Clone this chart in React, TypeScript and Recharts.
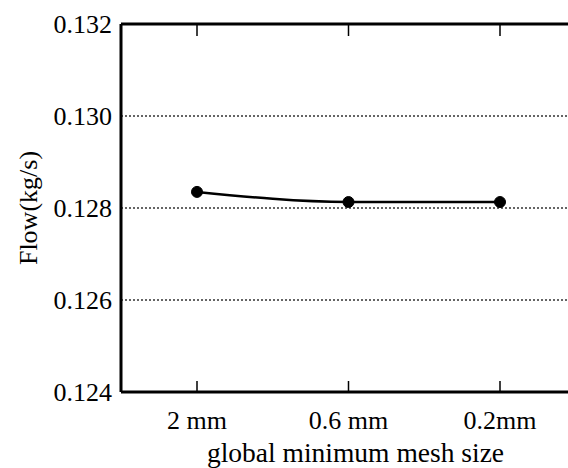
import React from "react"
import { LineChart, Line, XAxis, YAxis, CartesianGrid, Label, ReferenceLine } from "recharts"

const meshSizes = ["2 mm", "0.6 mm", "0.2mm"]
const flowValues = [0.12835, 0.12813, 0.12813]
const yTicks = [0.124, 0.126, 0.128, 0.13, 0.132]

const data = meshSizes.map((size, i) => ({ size, flow: flowValues[i] }))

const FONT = "Liberation Serif"
const PLOT_TOP = 24
const X_PAD = { left: 76, right: 76 }

// ticks point inward on both the bottom axis and the top frame edge
function BottomTick({ x, y, payload }: any) {
  return (
    <g>
      <line x1={x} y1={y} x2={x} y2={y - 11} stroke="#000" strokeWidth={1.5} />
      <line x1={x} y1={PLOT_TOP} x2={x} y2={PLOT_TOP + 12} stroke="#000" strokeWidth={1.5} />
      <text x={x} y={y + 37} textAnchor="middle" style={{ fontFamily: FONT, fontSize: 26 }} fill="#000">
        {payload.value}
      </text>
    </g>
  )
}

export default function App() {
  return (
    <div style={{ position: "absolute", left: 0, top: 0, width: 568, height: 468, overflow: "hidden", background: "#fff" }}>
      <LineChart width={580} height={468} data={data} margin={{ top: PLOT_TOP, right: 4, bottom: 0, left: 0 }}>
        <CartesianGrid vertical={false} stroke="#333" strokeDasharray="2 2" strokeWidth={1.5} />
        <XAxis
          dataKey="size"
          height={76}
          padding={X_PAD}
          axisLine={{ stroke: "#000", strokeWidth: 3 }}
          tickLine={false}
          tickSize={0}
          tickMargin={0}
          tick={<BottomTick />}
          interval={0}
        >
          <Label
            value="global minimum mesh size"
            position="insideBottom"
            content={({ viewBox }: any) => (
              <text
                x={viewBox.x + viewBox.width / 2 + 7}
                y={462}
                textAnchor="middle"
                style={{ fontFamily: FONT, fontSize: 27.5 }}
                fill="#000"
              >
                global minimum mesh size
              </text>
            )}
          />
        </XAxis>
        <YAxis
          width={121}
          domain={[0.124, 0.132]}
          ticks={yTicks}
          tickFormatter={(v: number) => v.toFixed(3)}
          axisLine={{ stroke: "#000", strokeWidth: 3 }}
          tickLine={false}
          tickSize={0}
          tickMargin={9}
          tick={{ fontFamily: FONT, fontSize: 26, fill: "#000" }}
        >
          <Label
            value="Flow(kg/s)"
            angle={-90}
            position="center"
            dx={-33}
            style={{ fontFamily: FONT, fontSize: 26, fill: "#000" }}
          />
        </YAxis>
        {/* top edge of the frame */}
        <ReferenceLine y={0.132} stroke="#000" strokeWidth={3} ifOverflow="visible" />
        <Line
          type="monotone"
          dataKey="flow"
          stroke="#000"
          strokeWidth={2.5}
          dot={{ r: 5.5, fill: "#000", stroke: "#000", strokeWidth: 1 }}
          isAnimationActive={false}
        />
      </LineChart>
    </div>
  )
}
